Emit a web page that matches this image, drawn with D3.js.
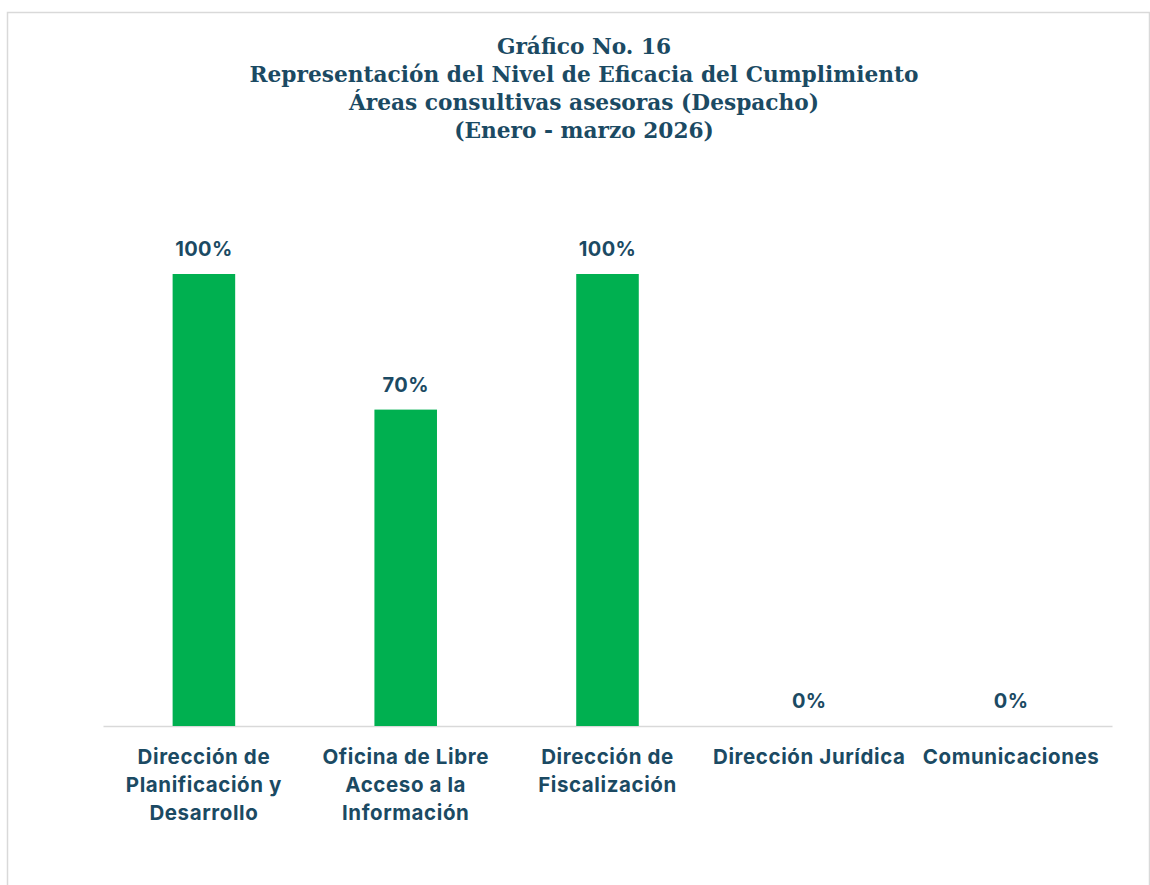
<!DOCTYPE html>
<meta charset="utf-8">
<script src="https://d3js.org/d3.v7.min.js"></script>
<style>
  body { margin: 0; background: #fff; }
</style>
<body></body>
<script>

// data
var areas = [
  ["Dirección de", "Planificación y", "Desarrollo"],
  ["Oficina de Libre", "Acceso a la", "Información"],
  ["Dirección de", "Fiscalización"],
  ["Dirección Jurídica"],
  ["Comunicaciones"]
];
var eficacia = [100, 70, 100, 0, 0];
var titleLines = [
  "Gráfico No. 16",
  "Representación del Nivel de Eficacia del Cumplimiento",
  "Áreas consultivas asesoras (Despacho)",
  "(Enero - marzo 2026)"
];

var W = 1150, H = 885;
var margin = {top: 274, right: 38, bottom: 159, left: 103};
var width = W - margin.left - margin.right,
    height = H - margin.top - margin.bottom;

var textColor = "#1b4a63";
var sans = "Inter, 'Open Sans', sans-serif";

var svg = d3.select("body").append("svg")
    .attr("width", W)
    .attr("height", H);

// chart border
svg.append("rect")
    .attr("x", 7.5).attr("y", 12.5)
    .attr("width", 1142).attr("height", 880)
    .attr("fill", "none")
    .attr("stroke", "#d9d9d9")
    .attr("stroke-width", 1.5);

// title
var title = svg.append("g").selectAll("text")
    .data(titleLines)
    .enter().append("text")
    .attr("x", 584)
    .attr("y", function(d, i) { return 54 + i * 28; })
    .attr("text-anchor", "middle")
    .style("font-family", "'DejaVu Serif', serif")
    .style("font-weight", "bold")
    .style("font-size", "21px")
    .style("fill", textColor)
    .text(function(d) { return d; });
// make the long title line about as wide as in the original (~669px)
var longest = title.nodes()[1].getComputedTextLength();
title.style("font-size", (21 * 669 / longest).toFixed(2) + "px");

var g = svg.append("g")
    .attr("transform", "translate(" + margin.left + "," + margin.top + ")");

var x = d3.scaleBand()
    .domain(d3.range(areas.length))
    .range([0, width])
    .paddingInner(0.69)
    .paddingOuter(0.345);

var y = d3.scaleLinear().domain([0, 100]).range([height, 0]);

var xAxis = d3.axisBottom(x).tickSize(0).tickFormat("");
var axisG = g.append("g")
    .attr("transform", "translate(0," + height + ")")
    .call(xAxis);
axisG.select(".domain")
    .attr("stroke", "#d9d9d9")
    .attr("stroke-width", 1.5);

// category labels (multi-line)
var labels = g.append("g").selectAll("text")
    .data(areas)
    .enter().append("text")
    .attr("text-anchor", "middle")
    .style("font-family", sans)
    .style("font-weight", "bold")
    .style("font-size", "20.5px")
    .style("letter-spacing", "0.6px")
    .style("fill", textColor);
labels.each(function(lines, i) {
  var cx = x(i) + x.bandwidth() / 2;
  d3.select(this).selectAll("tspan")
    .data(lines)
    .enter().append("tspan")
    .attr("x", cx)
    .attr("y", function(d, j) { return height + 38 + j * 28; })
    .text(function(d) { return d; });
});

// bars
g.selectAll(".bar")
    .data(eficacia)
    .enter().append("rect")
    .attr("class", "bar")
    .attr("x", function(d, i) { return x(i); })
    .attr("y", function(d) { return y(d); })
    .attr("width", x.bandwidth())
    .attr("height", function(d) { return height - y(d); })
    .style("fill", "#00b050");

// value labels
g.selectAll(".val")
    .data(eficacia)
    .enter().append("text")
    .attr("class", "val")
    .attr("x", function(d, i) { return x(i) + x.bandwidth() / 2; })
    .attr("y", function(d) { return y(d) - 18; })
    .attr("text-anchor", "middle")
    .style("font-family", sans)
    .style("font-weight", "bold")
    .style("font-size", "20px")
    .style("letter-spacing", "0.4px")
    .style("fill", textColor)
    .text(function(d) { return d + "%"; });

</script>
